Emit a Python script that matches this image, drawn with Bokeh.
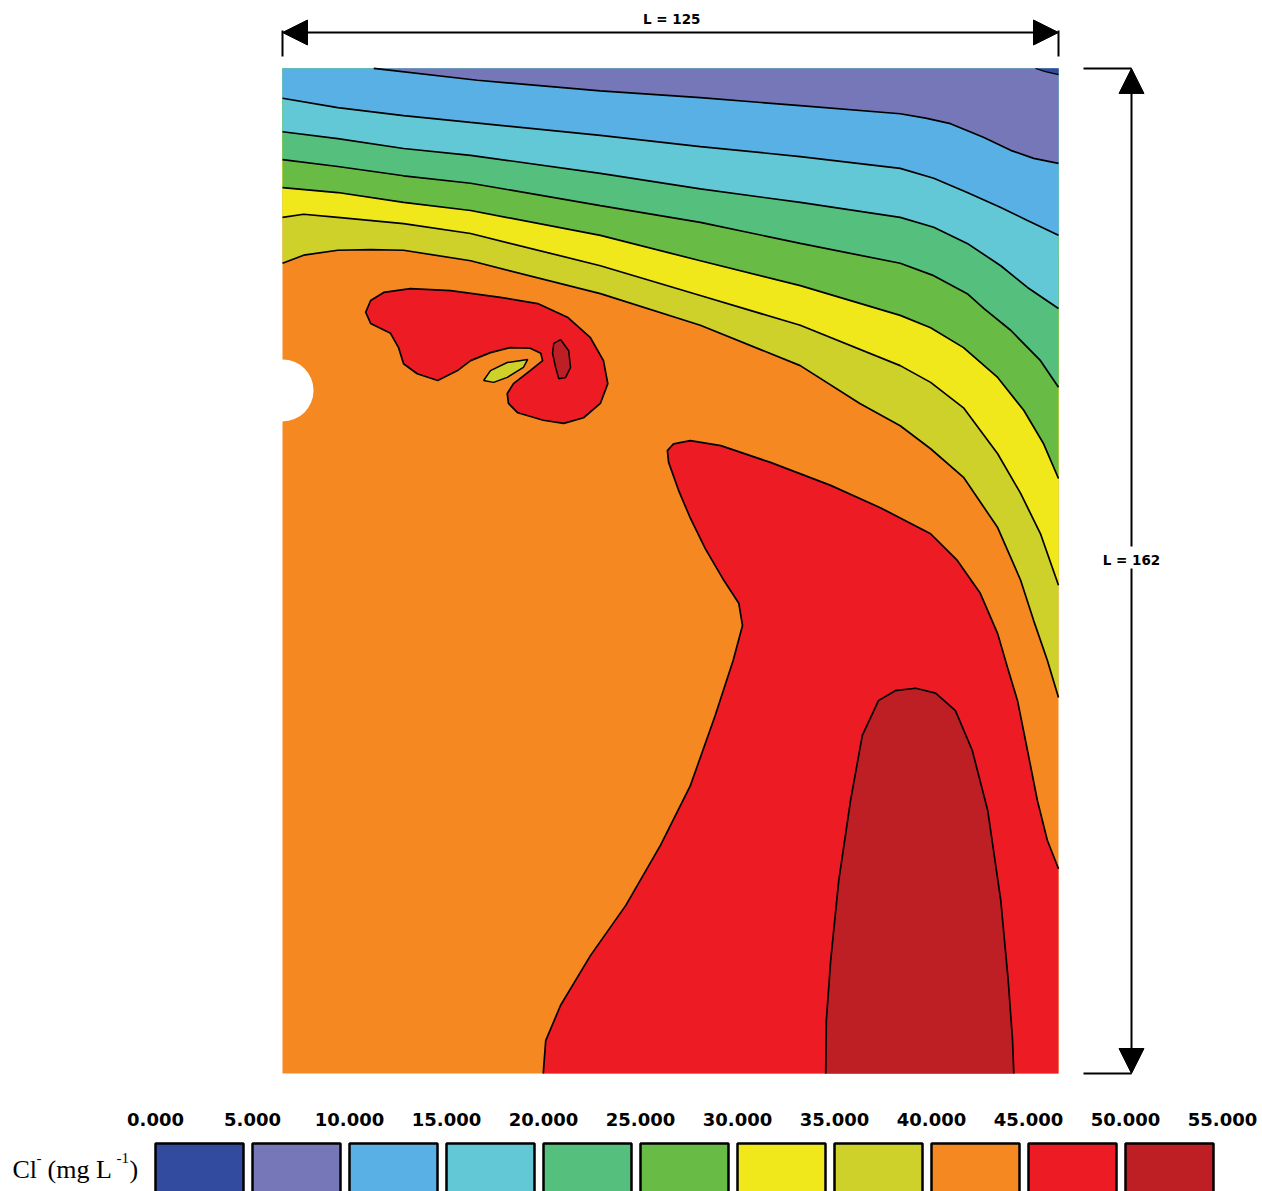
from bokeh.plotting import figure
from bokeh.models import Range1d, Arrow, NormalHead
from bokeh.core.properties import value
from bokeh.embed import file_html
from bokeh.resources import INLINE

# ---------------- data ----------------
LX, LY = 125.0, 162.0
levels = [0, 5, 10, 15, 20, 25, 30, 35, 40, 45, 50, 55]
level_labels = ["%.3f" % v for v in levels]
band_colors = ["#334b9e", "#7677b8", "#58b0e4", "#63c8d5", "#55bf7d", "#68bc45",
               "#f0e81b", "#cdd12a", "#f58820", "#ed1c24", "#bd1f25"]

# contour lines (x, y) in domain units, from left/top edge to right edge
c10_x = [14.7, 31.4, 51.2, 67.3, 83.4, 99.5, 103.6, 107.6, 112.9, 117.3, 121.0, 125.0]
c10_y = [162.0, 160.1, 158.4, 157.3, 156.0, 154.7, 154.0, 153.1, 150.9, 148.8, 147.5, 146.7]
c15_x = [0.0, 8.9, 19.5, 30.3, 51.2, 67.3, 83.4, 99.5, 104.9, 110.3, 115.7, 120.0, 125.0]
c15_y = [157.2, 155.7, 154.4, 153.3, 151.2, 149.4, 147.8, 145.9, 144.3, 142.0, 139.6, 137.5, 135.1]
c20_x = [0.0, 8.9, 19.5, 30.3, 51.2, 67.3, 83.4, 99.5, 104.9, 110.3, 115.7, 120.0, 125.0]
c20_y = [151.8, 150.7, 149.1, 148.0, 145.1, 142.6, 140.4, 138.0, 136.4, 133.8, 130.2, 126.7, 123.3]
c25_x = [0.0, 8.9, 19.5, 30.3, 51.2, 67.3, 83.4, 99.5, 104.9, 110.3, 113.0, 117.3, 122.1, 125.0]
c25_y = [147.3, 146.2, 144.7, 143.5, 139.9, 137.2, 133.8, 130.6, 128.6, 125.7, 123.3, 119.8, 114.9, 110.6]
c30_x = [0.0, 8.9, 19.5, 30.3, 51.2, 67.3, 83.4, 99.5, 104.4, 109.7, 115.2, 119.4, 122.6, 125.0]
c30_y = [142.8, 142.0, 140.4, 139.1, 135.1, 131.0, 127.0, 122.2, 120.2, 117.0, 112.2, 106.9, 101.5, 95.9]
c35_x = [0.0, 3.4, 8.9, 19.5, 30.3, 51.2, 67.3, 83.4, 99.5, 104.4, 109.7, 115.2, 118.9, 122.1, 125.0]
c35_y = [138.0, 138.5, 138.0, 137.0, 135.4, 130.2, 125.4, 120.6, 114.1, 111.4, 107.3, 99.9, 93.5, 87.0, 78.7]
c40_x = [0.0, 3.4, 8.9, 14.2, 19.5, 30.3, 51.2, 67.3, 83.4, 93.0, 99.5, 104.4, 109.7, 115.2, 118.9, 121.0, 123.2, 125.0]
c40_y = [130.6, 131.9, 132.7, 132.8, 132.7, 131.0, 125.7, 120.6, 114.1, 108.0, 104.4, 100.7, 96.1, 88.0, 79.5, 73.0, 66.6, 60.6]

# tiny 0-5 patch in the top right corner
c05_x = [121.3, 122.9, 125.0, 125.0]
c05_y = [162.0, 161.5, 161.0, 162.0]

# upper 45 blob
blob45_x = [13.4, 14.2, 16.3, 20.6, 27.1, 35.1, 41.1, 45.9, 49.6, 51.7, 52.4, 51.2, 48.5, 45.3,
            42.0, 37.9, 36.4, 36.2, 37.2, 39.9, 41.9, 41.6, 39.9, 36.7, 33.5, 30.3, 28.2, 25.0,
            21.7, 19.5, 18.7, 17.4, 14.2]
blob45_y = [122.7, 124.6, 125.9, 126.5, 126.2, 125.1, 124.1, 121.9, 118.6, 114.9, 111.2, 108.0, 105.7, 104.8,
            105.3, 106.5, 108.0, 109.6, 111.2, 113.3, 114.9, 116.1, 116.9, 117.0, 116.2, 114.9, 113.3, 111.7,
            112.8, 114.4, 117.0, 119.3, 120.9]
spot35_x = [32.4, 33.5, 36.2, 39.5, 38.8, 36.2, 34.0]
spot35_y = [111.7, 113.3, 114.6, 115.1, 113.8, 112.2, 111.4]
spot50_x = [43.7, 44.8, 46.1, 46.4, 45.6, 44.5, 44.0, 43.5]
spot50_y = [117.7, 118.3, 116.5, 113.8, 112.2, 112.0, 113.8, 116.1]

# lower 45 region (open curve from bottom edge to right edge)
low45_x = [42.0, 42.4, 44.8, 49.6, 55.3, 60.9, 65.7, 69.7, 72.6, 74.1, 73.5, 70.9, 68.1, 65.7,
           63.8, 62.2, 62.0, 63.0, 65.7, 70.6, 78.6, 88.3, 96.3, 104.4, 108.7, 112.4, 115.2,
           116.8, 118.4, 120.0, 121.6, 123.2, 125.0]
low45_y = [0.0, 5.3, 11.0, 19.0, 27.1, 36.8, 46.4, 57.7, 66.6, 72.2, 75.8, 79.8, 84.6, 89.5,
           94.0, 98.5, 100.4, 101.5, 102.0, 101.2, 98.5, 94.8, 91.2, 87.0, 82.7, 77.4, 70.9,
           65.4, 60.1, 52.1, 44.0, 37.6, 33.0]
# lower 50 region (open curve from bottom edge to bottom edge)
low50_x = [87.5, 87.6, 88.3, 89.6, 91.5, 93.4, 96.0, 98.7, 102.0, 105.2, 108.4, 111.1, 113.6,
           115.7, 116.9, 117.6, 117.8]
low50_y = [0.0, 8.5, 18.2, 31.1, 44.0, 54.5, 60.1, 61.7, 62.1, 61.3, 58.5, 52.1, 42.4,
           27.9, 15.0, 5.3, 0.0]

hole_x, hole_y, hole_r = 0.0, 110.1, 5.0

# ---------------- layout helpers (reference pixel -> domain units) ----------------
X0, Y0, SX, SY = 282.0, 1073.0, 6.208, 6.204
W, H = 1262, 1191


def px(x):
    return (x - X0) / SX


def py(y):
    return (Y0 - y) / SY


p = figure(width=W, height=H, output_backend="svg", toolbar_location=None,
           x_range=Range1d(px(0), px(W)), y_range=Range1d(py(H), py(0)),
           x_axis_location=None, y_axis_location=None, min_border=0)
p.grid.visible = False
p.outline_line_color = None
p.background_fill_color = "white"

LW = 1.7

# base band (40-45)
p.patch([0, LX, LX, 0], [0, 0, LY, LY], fill_color=band_colors[8], line_color=None)

# bands above each contour line, painted from low to high
upper = [(c40_x, c40_y, 7), (c35_x, c35_y, 6), (c30_x, c30_y, 5), (c25_x, c25_y, 4),
         (c20_x, c20_y, 3), (c15_x, c15_y, 2), (c10_x, c10_y, 1)]
for cx, cy, ci in upper:
    p.patch(cx + [LX, 0], cy + [LY, LY], fill_color=band_colors[ci], line_color=None)
p.patch(c05_x, c05_y, fill_color=band_colors[0], line_color=None)

# high-value regions
p.patch(low45_x + [LX], low45_y + [0], fill_color=band_colors[9], line_color=None)
p.patch(low50_x, low50_y, fill_color=band_colors[10], line_color=None)
p.patch(blob45_x, blob45_y, fill_color=band_colors[9], line_color="black", line_width=LW)
p.patch(spot35_x, spot35_y, fill_color=band_colors[7], line_color="black", line_width=1.5)
p.patch(spot50_x, spot50_y, fill_color=band_colors[10], line_color="black", line_width=1.5)

for cx, cy, ci in upper:
    p.line(cx, cy, line_color="black", line_width=LW)
p.line(c05_x[:3], c05_y[:3], line_color="black", line_width=1.2)
p.line(low45_x, low45_y, line_color="black", line_width=LW)
p.line(low50_x, low50_y, line_color="black", line_width=LW)

# hole on the left edge
p.circle(x=[hole_x], y=[hole_y], radius=hole_r, fill_color="white", line_color=None)

# ---------------- dimension lines ----------------
ytop = py(32)
p.add_layout(Arrow(start=NormalHead(size=25, fill_color="black", line_color="black"),
                   end=NormalHead(size=25, fill_color="black", line_color="black"),
                   x_start=0, y_start=ytop, x_end=LX, y_end=ytop,
                   line_color="black", line_width=2))
p.segment(x0=[0, LX], y0=[py(30), py(30)], x1=[0, LX], y1=[py(56), py(56)],
          line_color="black", line_width=2)
p.text(x=[LX / 2 + 0.2], y=[py(18)], text=["L = %d" % int(LX)],
       text_font=value("DejaVu Sans"), text_font_style="bold", text_font_size="13.5px",
       text_align="center", text_baseline="middle", text_color="black")

xr = px(1131)
p.add_layout(Arrow(end=NormalHead(size=25, fill_color="black", line_color="black"),
                   x_start=xr, y_start=py(546), x_end=xr, y_end=LY,
                   line_color="black", line_width=2))
p.add_layout(Arrow(end=NormalHead(size=25, fill_color="black", line_color="black"),
                   x_start=xr, y_start=py(568), x_end=xr, y_end=0,
                   line_color="black", line_width=2))
p.segment(x0=[px(1083), px(1083)], y0=[LY, 0], x1=[xr, xr], y1=[LY, 0],
          line_color="black", line_width=2)
p.text(x=[xr], y=[py(559)], text=["L = %d" % int(LY)],
       text_font=value("DejaVu Sans"), text_font_style="bold", text_font_size="13.5px",
       text_align="center", text_baseline="middle", text_color="black")

# ---------------- legend ----------------
n = len(band_colors)
lefts = [px(155 + 97 * i) for i in range(n)]
rights = [px(155 + 97 * i + 88) for i in range(n)]
p.quad(left=lefts, right=rights, top=[py(1143)] * n, bottom=[py(1205)] * n,
       fill_color=band_colors, line_color="black", line_width=2.5)
p.text(x=[px(155 + 97 * i) for i in range(len(levels))], y=[py(1119)] * len(levels),
       text=level_labels, text_font=value("DejaVu Sans"), text_font_style="bold",
       text_font_size="18px", text_align="center", text_baseline="middle", text_color="black")

serif = value("Liberation Serif")
p.text(x=[px(12)], y=[py(1169)], text=["Cl"], text_font=serif, text_font_size="26px",
       text_baseline="alphabetic", text_align="left", text_color="black")
p.text(x=[px(36)], y=[py(1157)], text=["-"], text_font=serif, text_font_size="15px",
       text_baseline="alphabetic", text_align="left", text_color="black")
p.text(x=[px(47)], y=[py(1169)], text=["(mg L"], text_font=serif, text_font_size="26px",
       text_baseline="alphabetic", text_align="left", text_color="black")
p.text(x=[px(116)], y=[py(1157)], text=["-1"], text_font=serif, text_font_size="15px",
       text_baseline="alphabetic", text_align="left", text_color="black")
p.text(x=[px(129)], y=[py(1169)], text=[")"], text_font=serif, text_font_size="26px",
       text_baseline="alphabetic", text_align="left", text_color="black")

open("out.html", "w").write(file_html(p, INLINE))
